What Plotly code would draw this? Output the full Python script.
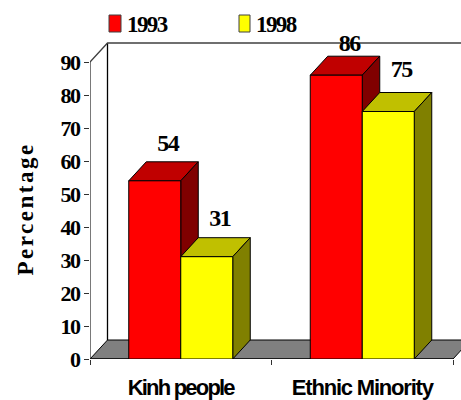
import plotly.graph_objects as go

categories = ["Kinh people", "Ethnic Minority"]
series_names = ["1993", "1998"]
values_1993 = [54, 86]
values_1998 = [31, 75]
y_ticks = [0, 10, 20, 30, 40, 50, 60, 70, 80, 90]
y_title = "Percentage"

W, H = 461, 400
ML, MT, MB = 90, 4, 41
PW, PH = W - ML, H - MT - MB
PX_X = 181.5          # pixels per category
PX_Y = 3.3            # pixels per percentage point
BAR = 52 / PX_X       # bar width in category units
DX = 17.5 / PX_X      # depth offset, x
DY = 19 / PX_Y        # depth offset, y
XMIN, XMAX = -0.5, 1.5
YMAX = 90
SERIF = "Liberation Serif"
SANS = "Liberation Sans"


def sp(text, spacing):
    return f'<span style="letter-spacing:{spacing}px">{text}</span>'


def px(x):
    return (x - ML) / PW


def py(y):
    return (H - MB - y) / PH


def poly(xs, ys, fill, name):
    return go.Scatter(x=xs + xs[:1], y=ys + ys[:1], mode="lines", fill="toself", fillcolor=fill,
                      line=dict(color="black", width=1), hoverinfo="skip", showlegend=False,
                      cliponaxis=False, name=name, zorder=0)


def line(xs, ys, color="black", width=1.3):
    return go.Scatter(x=xs, y=ys, mode="lines", line=dict(color=color, width=width),
                      hoverinfo="skip", showlegend=False, cliponaxis=False)


fig = go.Figure()

# Floor and wall
floor = poly([XMIN, XMAX, XMAX + DX, XMIN + DX], [0, 0, DY, DY], "#808080", "floor")
fig.add_trace(floor)
fig.add_trace(line([XMIN + DX, XMIN + DX], [DY, YMAX + DY]))
fig.add_trace(line([XMIN, XMIN + DX, XMAX + DX], [YMAX, YMAX + DY, YMAX + DY], "#404040"))
fig.add_trace(line([XMIN, XMIN], [0, YMAX], "#303030"))
fig.add_trace(line([XMIN, XMAX], [0, 0], "#101010", 1.6))

styles = [
    (values_1993, series_names[0], -BAR, "#FF0000", "#C00000", "#800000"),
    (values_1998, series_names[1], 0.0, "#FFFF00", "#C0C000", "#808000"),
]
z = 1
for vals, name, off, front, top, side in styles:
    for i, v in enumerate(vals):
        x0, x1 = i + off, i + off + BAR
        t = poly([x0, x1, x1 + DX, x0 + DX], [v, v, v + DY, v + DY], top, name + " top")
        s = poly([x1, x1 + DX, x1 + DX, x1], [0, DY, v + DY, v], side, name + " side")
        t.zorder = z
        s.zorder = z
        fig.add_trace(t)
        fig.add_trace(s)
    fig.add_trace(go.Bar(x=[0, 1], y=vals, width=BAR, offset=off, marker=dict(color=front, line=dict(color="black", width=1)),
                         name=name, showlegend=False, zorder=z + 1, cliponaxis=False))
    z += 2

# Value labels
label_lift = {54: 5.2, 31: 5.4, 86: 3.3, 75: 6.6}
for vals, off in ((values_1993, -BAR), (values_1998, 0.0)):
    fig.add_trace(go.Scatter(
        x=[i + off + BAR / 2 + 13 / PX_X for i in range(len(vals))],
        y=[v + DY + label_lift[v] for v in vals],
        mode="text", text=[sp(v, -1.5) for v in vals], textposition="middle center",
        textfont=dict(family=SERIF, size=24, color="black", weight=700),
        hoverinfo="skip", showlegend=False, cliponaxis=False, zorder=10))

legend_font = dict(family=SERIF, size=23, color="black", weight=700)
fig.update_layout(
    width=W, height=H, margin=dict(l=ML, r=0, t=MT, b=MB, autoexpand=False),
    paper_bgcolor="white", plot_bgcolor="white", barmode="overlay", showlegend=False,
    xaxis=dict(range=[XMIN, XMIN + PW / PX_X], showgrid=False, zeroline=False, showline=False,
               tickmode="array", tickvals=[0, 1],
               ticktext=[sp(categories[0], -1.8), sp(categories[1], -1.2)],
               ticks="", ticklabelstandoff=13,
               tickfont=dict(family=SANS, size=22, color="black", weight=700),
               minor=dict(tickmode="array", tickvals=[-0.5, 0.5, 1.5], ticks="outside", ticklen=5,
                          tickwidth=1, tickcolor="#303030", showgrid=False)),
    yaxis=dict(range=[0, PH / PX_Y], showgrid=False, zeroline=False, showline=False,
               tickmode="array", tickvals=y_ticks, ticktext=[sp(t, -1.5) for t in y_ticks],
               ticks="outside", ticklen=5, tickwidth=1, tickcolor="#303030",
               tickfont=dict(family=SERIF, size=22, color="black", weight=700)),
    annotations=[
        dict(text=sp(y_title, 2.5), textangle=-90, xref="paper", yref="paper", x=px(24.5), y=py(209),
             xanchor="center", yanchor="middle", showarrow=False,
             font=dict(family=SERIF, size=23, color="black", weight=700)),
        dict(text=sp(series_names[0], -1.6), xref="paper", yref="paper", x=px(124.5), y=py(24),
             xanchor="left", yanchor="middle", showarrow=False, font=legend_font),
        dict(text=sp(series_names[1], -1.6), xref="paper", yref="paper", x=px(254), y=py(24),
             xanchor="left", yanchor="middle", showarrow=False, font=legend_font),
    ],
    shapes=[
        dict(type="rect", xref="paper", yref="paper", x0=px(109), x1=px(121),
             y0=py(32), y1=py(15), fillcolor="#FF0000", line=dict(color="#404040", width=1)),
        dict(type="rect", xref="paper", yref="paper", x0=px(239), x1=px(250),
             y0=py(32), y1=py(15), fillcolor="#FFFF00", line=dict(color="#404040", width=1)),
    ],
)
fig.write_html("out.html", config=dict(displayModeBar=False),
               post_script="document.body.style.margin='0';document.body.style.overflow='hidden';")
